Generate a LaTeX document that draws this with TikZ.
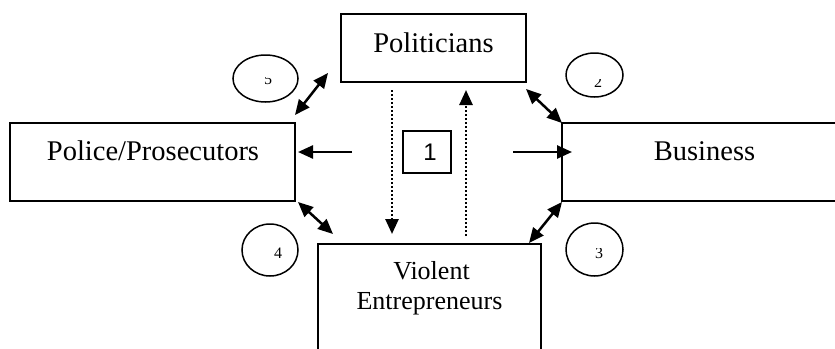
\documentclass[tikz,border=0pt]{standalone}
\usepackage{fontspec}
\setmainfont{Liberation Serif}
\newfontfamily\digitsans{Liberation Sans}
\usetikzlibrary{arrows.meta,shapes.geometric}
\begin{document}
\begin{tikzpicture}[x=1pt,y=-1pt,
  boxst/.style={draw, line width=1.6pt, inner sep=0pt, rectangle},
  ringst/.style={draw, ellipse, line width=1.5pt, inner sep=0pt},
  lbl/.style={anchor=base, inner sep=0pt, font=\fontsize{28.5}{32}\selectfont},
  lblsmall/.style={anchor=base, inner sep=0pt, font=\fontsize{26}{30}\selectfont},
  num/.style={anchor=base, inner sep=0pt, font=\fontsize{16}{18}\selectfont},
  link/.style={line width=2.5pt, -{Triangle[length=15pt,width=13pt]}},
  twoway/.style={line width=2.5pt, {Triangle[length=15pt,width=13pt]}-{Triangle[length=15pt,width=13pt]}},
  dotline/.style={line width=2.6pt, dash pattern=on 2pt off 2pt, -{Triangle[length=15pt,width=13pt]}}
]
\useasboundingbox (0,0) rectangle (835,348);
\clip (0,0) rectangle (835,348);

% boxes
\node[boxst, minimum width=185pt, minimum height=68pt] (pol) at (433.5,48) {};
\node[boxst, minimum width=285pt, minimum height=78pt] (police) at (152.5,162) {};
\node[boxst, minimum width=288pt, minimum height=78pt] (bus) at (706,162) {};
\node[boxst, minimum width=223pt, minimum height=126pt] (viol) at (429.5,307) {};
\node[boxst, minimum width=48pt, minimum height=42pt] (one) at (427,152) {};

% labels
\node[lbl] (polt) at (433.5,52) {Politicians};
\node[lbl] (policet) at (153,160) {Police/Prosecutors};
\node[lbl] (bust) at (704.5,160) {Business};
\node[lblsmall] (violt1) at (431.5,279) {Violent};
\node[lblsmall] (violt2) at (429.5,309) {Entrepreneurs};
\node[inner sep=0pt, font=\digitsans\fontsize{24}{28}\selectfont] (onet) at (430,152.5) {1};

% circles
\node[ringst, minimum width=65pt, minimum height=47pt] (c5) at (265.5,78.5) {};
\node[ringst, minimum width=57pt, minimum height=44pt] (c2) at (594.5,75) {};
\node[ringst, minimum width=56pt, minimum height=52pt] (c4) at (270,250) {};
\node[ringst, minimum width=57pt, minimum height=53pt] (c3) at (594.5,249.5) {};

\begin{scope}
  \clip (245,77) rectangle (290,95);
  \node[num] (n5) at (268,84.5) {5};
\end{scope}
\begin{scope}
  \clip (575,79.3) rectangle (620,95);
  \node[num] (n2) at (598,87) {2};
\end{scope}
\begin{scope}
  \clip (575,248.5) rectangle (620,265);
  \node[num] (n3) at (599,258) {3};
\end{scope}
\node[num] (n4) at (278,258) {4};

% arrow end points
\coordinate (pp1) at (295,115);
\coordinate (pp2) at (328,73);
\coordinate (pb1) at (526,89);
\coordinate (pb2) at (562,123);
\coordinate (pv1) at (298,202);
\coordinate (pv2) at (333,234);
\coordinate (bv1) at (562,202);
\coordinate (bv2) at (529,243);
\coordinate (la1) at (352,152);
\coordinate (la2) at (298,152);
\coordinate (ra1) at (513,152);
\coordinate (ra2) at (572,152);
\coordinate (dd1) at (392,90);
\coordinate (dd2) at (392,234);
\coordinate (du1) at (466,236);
\coordinate (du2) at (466,90);

\draw[twoway] (pp1) -- (pp2);
\draw[twoway] (pb1) -- (pb2);
\draw[twoway] (pv1) -- (pv2);
\draw[twoway] (bv1) -- (bv2);
\draw[link] (la1) -- (la2);
\draw[link] (ra1) -- (ra2);
\draw[dotline] (dd1) -- (dd2);
\draw[dotline] (du1) -- (du2);
\end{tikzpicture}
\end{document}
